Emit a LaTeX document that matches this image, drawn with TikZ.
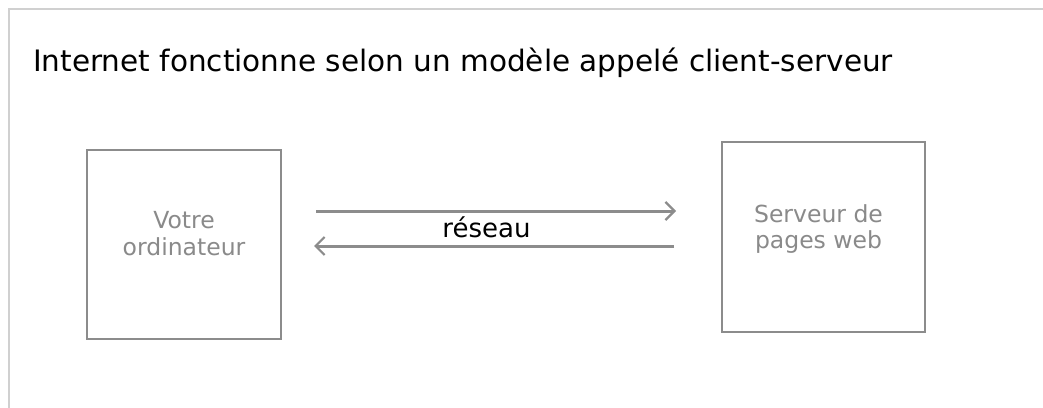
\documentclass[tikz,border=0pt]{standalone}
\usepackage{fontspec}
\setmainfont{DejaVu Sans}
\usetikzlibrary{arrows.meta}
\definecolor{boxgray}{HTML}{8C8C8C}
\definecolor{framegray}{HTML}{D0D0D0}
\definecolor{txtgray}{HTML}{8A8A8A}
\tikzset{
  srvbox/.style={draw=boxgray, line width=2.2pt, fill=white, inner sep=0pt},
  boxtext/.style={text=txtgray, font=\fontsize{23.5}{27}\selectfont, anchor=base, inner sep=0pt},
  netarrow/.style={draw=boxgray, line width=3pt, -{Straight Barb[length=9pt,width=18pt,line width=2.2pt]}},
}
\begin{document}
\begin{tikzpicture}[x=1pt,y=-1pt]
\useasboundingbox (0,0) rectangle (1043,407);
\draw[framegray, line width=2pt] (9,420) -- (9,9) -- (1050,9);
\node[anchor=base west, font=\fontsize{29.5}{34}\selectfont, inner sep=0pt] (title) at (33,71) {Internet fonctionne selon un modèle appelé client-serveur};
\node[srvbox, minimum width=194pt, minimum height=189pt] (client) at (184,244.5) {};
\node[boxtext] (clientl1) at (184,228) {Votre};
\node[boxtext] (clientl2) at (184,255) {ordinateur};
\node[srvbox, minimum width=203pt, minimum height=190pt] (server) at (823.5,237) {};
\node[boxtext] (serverl1) at (818.5,222) {Serveur de};
\node[boxtext] (serverl2) at (818.5,248) {pages web};
\coordinate (a1s) at (316,211);
\coordinate (a1e) at (676,211);
\coordinate (a2s) at (674,246);
\coordinate (a2e) at (314,246);
\draw[netarrow] (a1s) -- (a1e);
\draw[netarrow] (a2s) -- (a2e);
\node[font=\fontsize{26}{30}\selectfont, anchor=base, inner sep=0pt] (net) at (486.5,237) {réseau};
\end{tikzpicture}
\end{document}
